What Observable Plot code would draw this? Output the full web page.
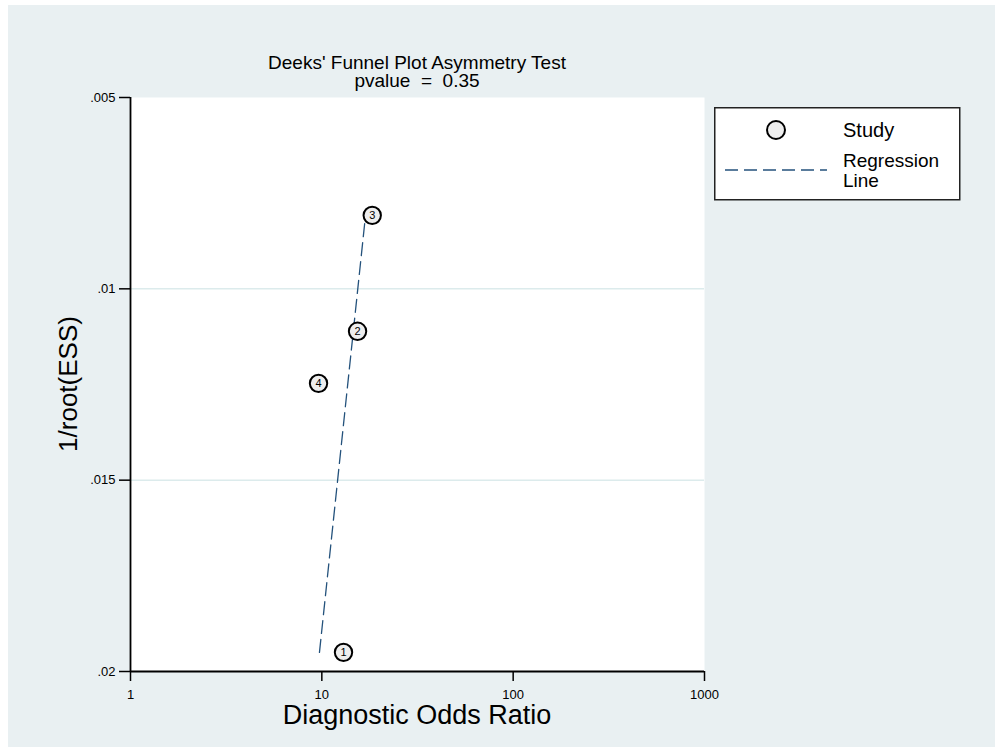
<!DOCTYPE html>
<html>
<head>
<meta charset="utf-8">
<script src="https://cdn.jsdelivr.net/npm/d3@7"></script>
<script src="https://cdn.jsdelivr.net/npm/@observablehq/plot@0.6"></script>
<style>
  html, body { margin: 0; padding: 0; background: #ffffff; }
  #wrap { position: relative; width: 995px; height: 747px; overflow: hidden; font-family: "Liberation Sans", Arial, sans-serif; color: #000; }
  #bg { position: absolute; left: 8px; top: 5px; right: 0; bottom: 0; background: #e9f0f2; }
  #chart { position: absolute; left: 0; top: 0; }
  .t { position: absolute; white-space: pre; text-align: center; }
</style>
</head>
<body>
<div id="wrap">
  <div id="bg"></div>
  <div id="chart"></div>
  <div class="t" id="title" style="left:117px; width:600px; top:54px; font-size:19px; line-height:18px;">Deeks' Funnel Plot Asymmetry Test
pvalue  =  0.35</div>
  <div class="t" id="xtitle" style="left:117px; width:600px; top:700px; font-size:27px; line-height:30px;">Diagnostic Odds Ratio</div>
  <div class="t" id="ytitle" style="left:-232px; width:600px; top:369px; font-size:26px; line-height:30px; transform: rotate(-90deg);">1/root(ESS)</div>
  <div id="legend" style="position:absolute; left:714px; top:107px;"></div>
</div>
<script>
// ---- data ----
const studyIds = ["1", "2", "3", "4"];
const studyDOR = [12.98, 15.37, 18.34, 9.61];
const studyInvRootESS = [0.0195, 0.01111, 0.00808, 0.01247];

const regDOR = [9.72, 16.92];
const regInvRootESS = [0.0195, 0.00808];

const xTicks = [1, 10, 100, 1000];
const yTicks = [0.005, 0.01, 0.015, 0.02];
const gridTicks = [0.01, 0.015];

const legendLabels = ["Study", "Regression\nLine"];

// ---- tables ----
const studies = studyIds.map((id, i) => ({id, dor: studyDOR[i], ress: studyInvRootESS[i]}));
const regression = regDOR.map((d, i) => ({dor: d, ress: regInvRootESS[i]}));

const fmtY = d => String(d).replace(/^0/, "");

const chart = Plot.plot({
  width: 995,
  height: 747,
  marginLeft: 130,
  marginRight: 291,
  marginTop: 97,
  marginBottom: 76,
  style: {background: "transparent", fontFamily: "Liberation Sans, Arial, sans-serif", color: "#000", overflow: "visible"},
  x: {type: "log", domain: [1, 1000]},
  y: {domain: [0.005, 0.02], reverse: true},
  marks: [
    Plot.frame({fill: "white", stroke: null}),
    Plot.gridY(gridTicks, {stroke: "#dcebec", strokeOpacity: 1, strokeWidth: 1.5}),
    Plot.axisX({ticks: xTicks, tickFormat: d => String(d), tickSize: 10, tickPadding: 8, fontSize: 13, label: null, strokeWidth: 1.5}),
    Plot.axisY({ticks: yTicks, tickFormat: fmtY, tickSize: 11, tickPadding: 4, fontSize: 13, label: null, strokeWidth: 1.5}),
    Plot.ruleX([1], {stroke: "black", strokeWidth: 1.8}),
    Plot.ruleY([0.02], {stroke: "black", strokeWidth: 1.8}),
    Plot.line(regression, {x: "dor", y: "ress", stroke: "#24527c", strokeWidth: 1.3, strokeDasharray: "13,6"}),
    Plot.dot(studies, {x: "dor", y: "ress", r: 8.7, fill: "#eeeeee", stroke: "black", strokeWidth: 2}),
    Plot.text(studies, {x: "dor", y: "ress", text: "id", fontSize: 11, fill: "#000"})
  ]
});
document.getElementById("chart").appendChild(chart);

// ---- legend ----
const lg = d3.select("#legend").append("svg").attr("width", 248).attr("height", 95)
  .style("font-family", "Liberation Sans, Arial, sans-serif");
lg.append("rect").attr("x", 0.75).attr("y", 0.75).attr("width", 245).attr("height", 92)
  .attr("fill", "white").attr("stroke", "#222").attr("stroke-width", 1.5);
lg.append("circle").attr("cx", 62).attr("cy", 23).attr("r", 9)
  .attr("fill", "#eeeeee").attr("stroke", "black").attr("stroke-width", 2);
lg.append("text").attr("x", 129).attr("y", 30).attr("font-size", 20).text(legendLabels[0]);
lg.append("line").attr("x1", 11).attr("x2", 113).attr("y1", 63).attr("y2", 63)
  .attr("stroke", "#24527c").attr("stroke-width", 1.3).attr("stroke-dasharray", "13,6");
const lines = legendLabels[1].split("\n");
lines.forEach((s, i) => lg.append("text").attr("x", 129).attr("y", 60 + i * 20).attr("font-size", 19).text(s));
</script>
</body>
</html>
